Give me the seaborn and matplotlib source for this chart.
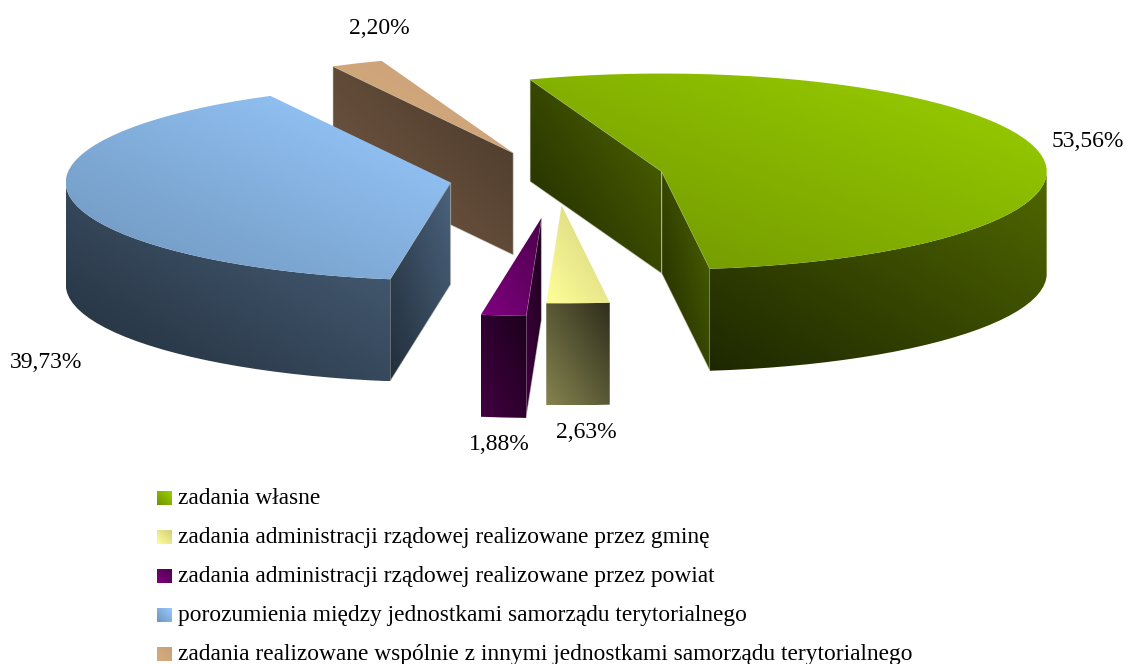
import matplotlib
matplotlib.use('Agg')
import matplotlib.pyplot as plt
from matplotlib.patches import Polygon
import numpy as np
import seaborn as sns

labels = ['zadania własne',
          'zadania administracji rządowej realizowane przez gminę',
          'zadania administracji rządowej realizowane przez powiat',
          'porozumienia między jednostkami samorządu terytorialnego',
          'zadania realizowane wspólnie z innymi jednostkami samorządu terytorialnego']
values = [53.56, 2.63, 1.88, 39.73, 2.20]
explode = [0.28, 0.28, 0.41, 0.28, 0.28]

# colours: (lower left, upper right) of each gradient
top_colors = [('#6f9400', '#9ad000'), ('#ffff99', '#d2cf7c'), ('#800080', '#4d004d'),
              ('#6f95bc', '#98caff'), ('#d6ab7d', '#c9a178')]
side_colors = [('#1e2800', '#506700'), ('#85834f', '#2e2e1c'), ('#400040', '#1c001c'),
               ('#222e3b', '#4b637d'), ('#775c47', '#483728')]
label_xy = [(1088, 147), (586, 438), (499, 450), (46, 368), (379, 34)]
draw_order = [4, 3, 0, 1, 2]

center = (557, 178)
rx, ry = 385, 98
depth = 102
start_angle = 110

sns.set_theme(style='white')
plt.rcParams['font.family'] = ['Liberation Serif', 'DejaVu Serif']

fig = plt.figure(figsize=(11.26, 6.64), dpi=100)
ax = fig.add_axes([0, 0, 1, 1])


def gradient_face(pts, colors, edge=None):
    pts = np.asarray(pts)
    x0, y0 = pts.min(axis=0)
    x1, y1 = pts.max(axis=0)
    grid = np.linspace(0, 1, 80)
    xx, yy = np.meshgrid(grid, grid)
    cmap = sns.blend_palette(colors, as_cmap=True)
    im = ax.imshow((xx + 1 - yy) / 2, cmap=cmap, vmin=0, vmax=1, aspect='auto',
                   extent=(x0, x1, y1, y0), interpolation='bilinear', zorder=len(ax.images) + 1)
    poly = Polygon(pts, closed=True, fc='none', ec=edge or 'none', lw=0.7, alpha=0.55,
                   zorder=len(ax.images) + 1)
    ax.add_patch(poly)
    im.set_clip_path(poly)


def rim(cx, cy, deg):
    rad = np.radians(deg)
    return np.column_stack([cx + rx * np.cos(rad), cy - ry * np.sin(rad)])


shares = np.array(values) / sum(values) * 360
ends = start_angle - np.cumsum(shares)
starts = ends + shares

for i in draw_order:
    a, b = starts[i], ends[i]
    mid = np.radians((a + b) / 2)
    cx = center[0] + explode[i] * rx * np.cos(mid)
    cy = center[1] - explode[i] * ry * np.sin(mid)
    down = np.array([0, depth])
    tip = np.array([cx, cy])

    # cut faces, only those turned to the viewer
    if np.cos(np.radians(a)) < 0:
        end = rim(cx, cy, [a])[0]
        gradient_face([end, tip, tip + down, end + down], side_colors[i], edge='#d8d8c8')
    if np.cos(np.radians(b)) > 0:
        end = rim(cx, cy, [b])[0]
        gradient_face([tip, end, end + down, tip + down], side_colors[i], edge='#d8d8c8')

    # outer wall on the front half of the rim
    deg = np.linspace(a, b, max(int(abs(a - b) / 3), 2) + 1)
    front = deg[np.sin(np.radians(deg)) < 0]
    if len(front) > 1:
        arc = rim(cx, cy, front)
        gradient_face(np.vstack([arc, (arc + down)[::-1]]), side_colors[i])

    # top face
    gradient_face(np.vstack([tip, rim(cx, cy, deg)]), top_colors[i])

    ax.text(label_xy[i][0], label_xy[i][1], f'{values[i]:.2f}%'.replace('.', ','),
            fontsize=17, color='black', ha='center', va='baseline', zorder=100)

# legend
legend_y = [498, 537, 576, 615, 654]
for lab, y, colors in zip(labels, legend_y, top_colors):
    gradient_face([(157, y - 7), (172, y - 7), (172, y + 7), (157, y + 7)], colors)
    ax.text(178, y + 6, lab, fontsize=16.85, color='black', ha='left', va='baseline', zorder=100)

ax.set_xlim(0, 1126)
ax.set_ylim(664, 0)
ax.axis('off')
fig.savefig('out.png', dpi=100, facecolor='white')
